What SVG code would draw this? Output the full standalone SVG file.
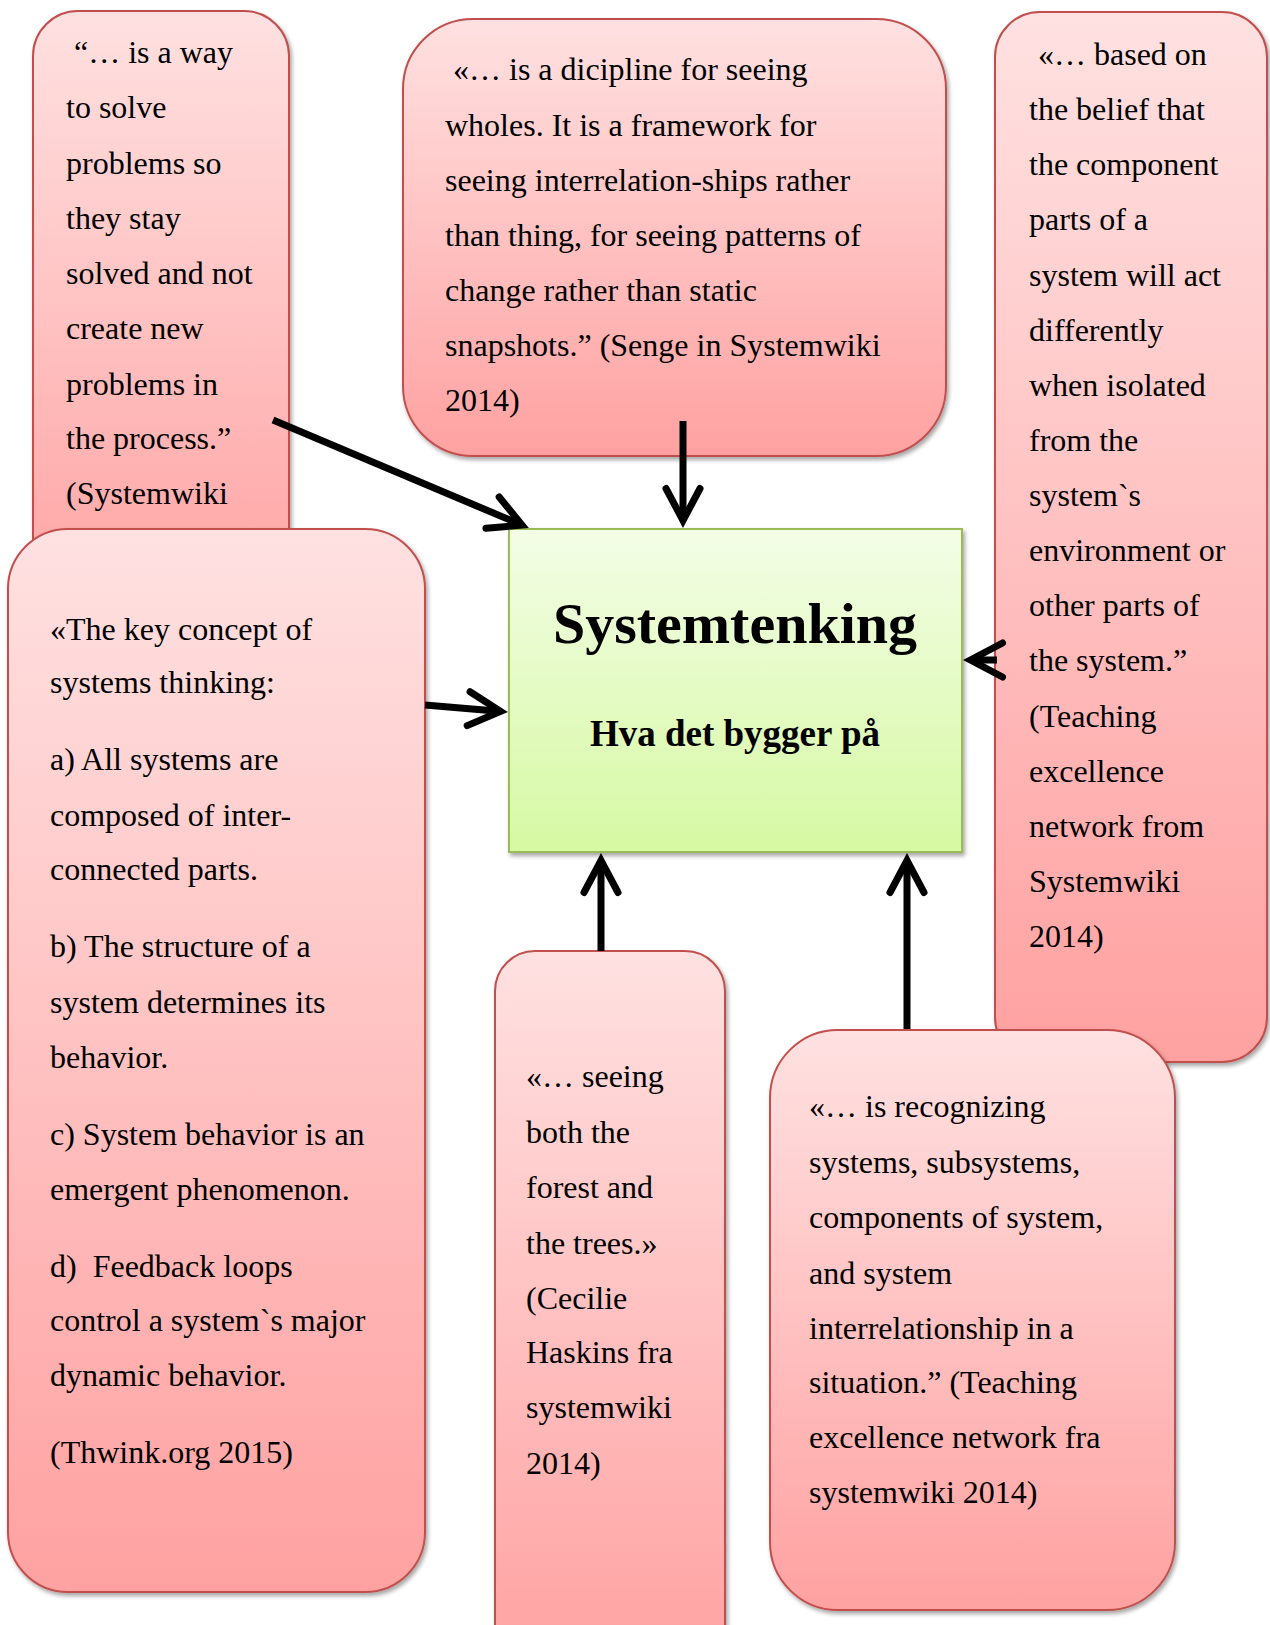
<svg xmlns="http://www.w3.org/2000/svg" width="1270" height="1625" viewBox="0 0 1270 1625">
  <style>
    .quote { fill: url(#pinkFill); stroke: #c0504d; stroke-width: 2; filter: url(#shadow); }
    .core { fill: url(#greenFill); stroke: #9bbb59; stroke-width: 2; filter: url(#shadow); }
    .txt { font-family: "Liberation Serif", "Times New Roman", serif; font-size: 32px; fill: #000; }
    .title { font-family: "Liberation Serif", "Times New Roman", serif; font-weight: bold; fill: #000; text-anchor: middle; }
    .conn { stroke: #000; stroke-width: 7; fill: none; marker-end: url(#openArrow); }
  </style>
  <defs>
    <linearGradient id="pinkFill" x1="0" y1="0" x2="0" y2="1">
      <stop offset="0" stop-color="#ffe1e1"/>
      <stop offset="1" stop-color="#ffa1a1"/>
    </linearGradient>
    <linearGradient id="greenFill" x1="0" y1="0" x2="0" y2="1">
      <stop offset="0" stop-color="#f3fde6"/>
      <stop offset="1" stop-color="#d6f9a3"/>
    </linearGradient>
    <filter id="shadow" x="-10%" y="-10%" width="120%" height="120%">
      <feDropShadow dx="2" dy="3" stdDeviation="2" flood-color="#000" flood-opacity="0.35"/>
    </filter>
    <marker id="openArrow" markerUnits="userSpaceOnUse" orient="auto" refX="0" refY="0" markerWidth="80" markerHeight="80" overflow="visible">
      <path d="M-30,-17 L2,0 L-30,17" fill="none" stroke="#000" stroke-width="7" stroke-linecap="round" stroke-linejoin="miter"/>
    </marker>
  </defs>

  <!-- Quote: way to solve problems -->
  <g id="node-solve">
    <rect class="quote" x="33" y="11" width="256" height="620" rx="45" ry="45"/>
    <text class="txt">
      <tspan x="74" y="63">“… is a way</tspan>
      <tspan x="66" y="118">to solve</tspan>
      <tspan x="66" y="174">problems so</tspan>
      <tspan x="66" y="229">they stay</tspan>
      <tspan x="66" y="284">solved and not</tspan>
      <tspan x="66" y="339">create new</tspan>
      <tspan x="66" y="395">problems in</tspan>
      <tspan x="66" y="449">the process.”</tspan>
      <tspan x="66" y="504">(Systemwiki</tspan>
    </text>
  </g>

  <!-- Quote: Senge -->
  <g id="node-senge">
    <rect class="quote" x="403" y="19" width="543" height="437" rx="70" ry="70"/>
    <text class="txt">
      <tspan x="453" y="80">«… is a dicipline for seeing</tspan>
      <tspan x="445" y="136">wholes. It is a framework for</tspan>
      <tspan x="445" y="191">seeing interrelation-ships rather</tspan>
      <tspan x="445" y="246">than thing, for seeing patterns of</tspan>
      <tspan x="445" y="301">change rather than static</tspan>
      <tspan x="445" y="356">snapshots.” (Senge in Systemwiki</tspan>
      <tspan x="445" y="411">2014)</tspan>
    </text>
  </g>

  <!-- Quote: component parts -->
  <g id="node-parts">
    <rect class="quote" x="995" y="12" width="272" height="1050" rx="45" ry="45"/>
    <text class="txt">
      <tspan x="1038" y="65">«… based on</tspan>
      <tspan x="1029" y="120">the belief that</tspan>
      <tspan x="1029" y="175">the component</tspan>
      <tspan x="1029" y="230">parts of a</tspan>
      <tspan x="1029" y="286">system will act</tspan>
      <tspan x="1029" y="341">differently</tspan>
      <tspan x="1029" y="396">when isolated</tspan>
      <tspan x="1029" y="451">from the</tspan>
      <tspan x="1029" y="506">system`s</tspan>
      <tspan x="1029" y="561">environment or</tspan>
      <tspan x="1029" y="616">other parts of</tspan>
      <tspan x="1029" y="671">the system.”</tspan>
      <tspan x="1029" y="727">(Teaching</tspan>
      <tspan x="1029" y="782">excellence</tspan>
      <tspan x="1029" y="837">network from</tspan>
      <tspan x="1029" y="892">Systemwiki</tspan>
      <tspan x="1029" y="947">2014)</tspan>
    </text>
  </g>

  <!-- Central topic -->
  <g id="node-core">
    <rect class="core" x="509" y="529" width="453" height="323"/>
    <text class="title" x="735" y="643" font-size="58">Systemtenking</text>
    <text class="title" x="735" y="746" font-size="37">Hva det bygger på</text>
  </g>

  <!-- Quote: key concepts -->
  <g id="node-concepts">
    <rect class="quote" x="8" y="529" width="417" height="1063" rx="60" ry="60"/>
    <text class="txt">
      <tspan x="50" y="640">«The key concept of</tspan>
      <tspan x="50" y="693">systems thinking:</tspan>
      <tspan x="50" y="770">a) All systems are</tspan>
      <tspan x="50" y="826">composed of inter-</tspan>
      <tspan x="50" y="880">connected parts.</tspan>
      <tspan x="50" y="957">b) The structure of a</tspan>
      <tspan x="50" y="1013">system determines its</tspan>
      <tspan x="50" y="1068">behavior.</tspan>
      <tspan x="50" y="1145">c) System behavior is an</tspan>
      <tspan x="50" y="1200">emergent phenomenon.</tspan>
      <tspan x="50" y="1277">d)&#160; Feedback loops</tspan>
      <tspan x="50" y="1331">control a system`s major</tspan>
      <tspan x="50" y="1386">dynamic behavior.</tspan>
      <tspan x="50" y="1463">(Thwink.org 2015)</tspan>
    </text>
  </g>

  <!-- Quote: forest and trees -->
  <g id="node-forest">
    <rect class="quote" x="495" y="951" width="230" height="720" rx="40" ry="40"/>
    <text class="txt">
      <tspan x="526" y="1087">«… seeing</tspan>
      <tspan x="526" y="1143">both the</tspan>
      <tspan x="526" y="1198">forest and</tspan>
      <tspan x="526" y="1254">the trees.»</tspan>
      <tspan x="526" y="1309">(Cecilie</tspan>
      <tspan x="526" y="1363">Haskins fra</tspan>
      <tspan x="526" y="1418">systemwiki</tspan>
      <tspan x="526" y="1474">2014)</tspan>
    </text>
  </g>

  <!-- Quote: recognizing systems -->
  <g id="node-recognizing">
    <rect class="quote" x="770" y="1030" width="405" height="580" rx="68" ry="68"/>
    <text class="txt">
      <tspan x="809" y="1117">«… is recognizing</tspan>
      <tspan x="809" y="1173">systems, subsystems,</tspan>
      <tspan x="809" y="1228">components of system,</tspan>
      <tspan x="809" y="1284">and system</tspan>
      <tspan x="809" y="1339">interrelationship in a</tspan>
      <tspan x="809" y="1393">situation.” (Teaching</tspan>
      <tspan x="809" y="1448">excellence network fra</tspan>
      <tspan x="809" y="1503">systemwiki 2014)</tspan>
    </text>
  </g>

  <!-- Connectors: every quote points at the central topic -->
  <g id="connectors">
    <line class="conn" x1="273" y1="420" x2="520.2" y2="524.3"/>
    <line class="conn" x1="683" y1="421" x2="683" y2="518.5"/>
    <line class="conn" x1="997" y1="660" x2="972.5" y2="660"/>
    <line class="conn" x1="425" y1="705" x2="498.5" y2="711.2"/>
    <line class="conn" x1="601" y1="951" x2="601" y2="862.5"/>
    <line class="conn" x1="907" y1="1029" x2="907" y2="862.5"/>
  </g>
</svg>
